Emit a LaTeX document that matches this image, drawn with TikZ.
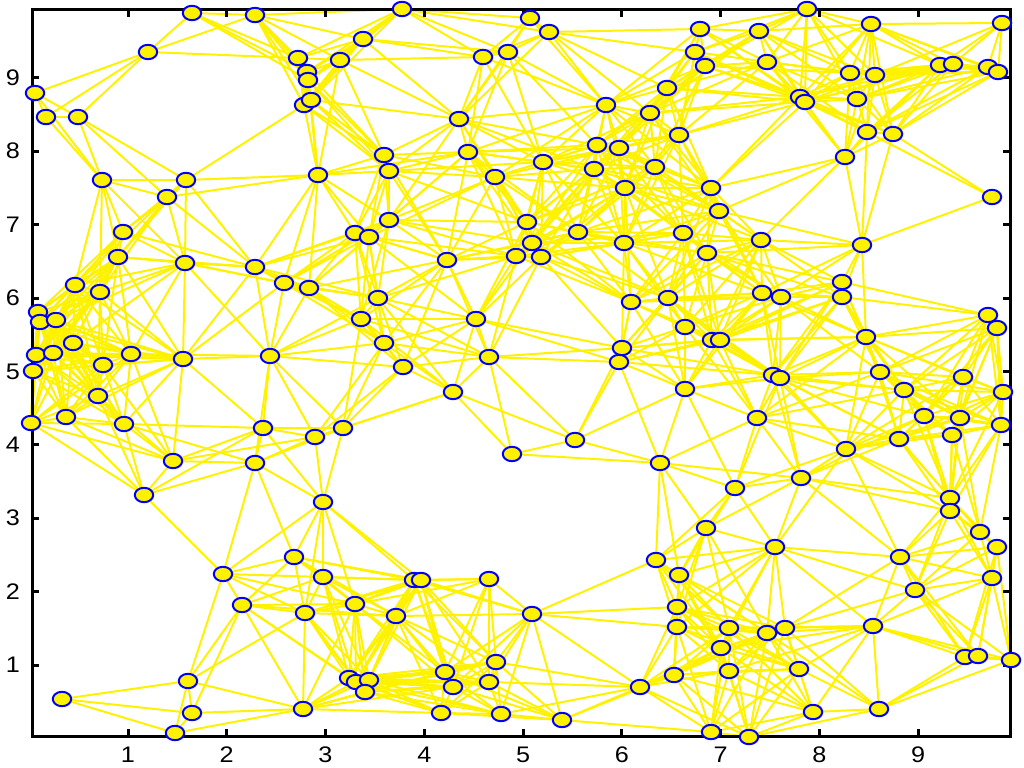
\documentclass[tikz,border=0pt]{standalone}
\usepackage{fontspec}
\setmainfont{Liberation Sans}
\usetikzlibrary{shapes.geometric}
\pgfdeclarelayer{bg}
\pgfsetlayers{bg,main}
\newcount\ci \newcount\cj \newcount\cdx \newcount\cdy
\def\NN{0}
\def\rsq{24964}
\def\innerloop{%
  \loop\ifnum\cj<\numexpr\NN+1\relax
    \cdx=\numexpr\csname X\the\ci\endcsname-\csname X\the\cj\endcsname\relax
    \cdy=\numexpr\csname Y\the\ci\endcsname-\csname Y\the\cj\endcsname\relax
    \ifnum\numexpr\cdx*\cdx+\cdy*\cdy\relax<\rsq
      \edef\mytmp{\noexpand\draw[link] (n\the\ci.center) -- (n\the\cj.center);}\mytmp
    \fi
    \advance\cj by 1
  \repeat}
\tikzset{
  pt/.style={ellipse, draw=blue, fill=yellow, line width=0.05cm, minimum width=0.46cm, minimum height=0.36cm, inner sep=0pt},
  link/.style={draw=yellow, line width=0.05cm},
  axisline/.style={line width=0.075cm, black},
  ticklab/.style={font=\fontsize{16}{18}\selectfont, inner sep=0pt, xscale=1.12, transform shape},
}
\begin{document}
\begin{tikzpicture}[x=0.025cm,y=-0.025cm]
\useasboundingbox (0,0) rectangle (1024,768);
% axes
\draw[axisline] (32,10) rectangle (1010,736);
\foreach \k in {1,...,9}{
  \pgfmathsetmacro\tx{29.25+98.75*\k}
  \pgfmathsetmacro\ty{738.4-73.4*\k}
  \draw[axisline] (\tx,736) -- (\tx,729);
  \draw[axisline] (\tx,10) -- (\tx,17);
  \draw[axisline] (32,\ty) -- (39,\ty);
  \draw[axisline] (1010,\ty) -- (1003,\ty);
  \node[ticklab] (xl\k) at (\tx,755) {\k};
  \node[ticklab] (yl\k) at (13,\ty) {\k};
}
% sensor nodes
\foreach \x/\y [count=\k] in {
192/13, 255/15, 402/9, 530/18, 549/32, 700/29, 759/31, 807/9, 871/24, 1002/23,
148/52, 363/39, 298/58, 340/60, 307/72, 308/80, 304/105, 311/100, 483/57, 508/52,
695/52, 705/66, 767/62, 940/65, 953/64, 988/67, 998/72, 850/73, 875/75, 35/93,
46/117, 78/117, 606/105, 667/88, 650/113, 679/135, 800/97, 805/102, 857/99, 867/132,
893/134, 459/119, 468/152, 597/145, 619/148, 543/162, 594/169, 655/167, 625/188, 711/188,
845/157, 992/197, 102/180, 186/180, 167/197, 318/175, 384/155, 389/171, 495/177, 719/211,
123/232, 118/257, 185/263, 255/267, 389/220, 355/233, 369/237, 527/222, 532/243, 516/256,
541/257, 578/232, 624/243, 683/233, 707/253, 761/240, 862/245, 447/260, 284/283, 309/288,
378/298, 361/319, 476/319, 384/343, 270/356, 403/367, 489/357, 453/392, 263/428, 315/437,
343/428, 255/463, 512/454, 323/502, 75/285, 100/292, 38/312, 40/322, 56/320, 73/343,
36/355, 53/353, 33/371, 103/365, 131/354, 183/359, 98/396, 66/417, 31/423, 124/424,
173/461, 144/495, 631/302, 668/298, 762/293, 781/297, 842/282, 842/297, 685/327, 712/340,
720/340, 622/348, 619/362, 773/375, 780/378, 685/389, 757/418, 575/440, 660/463, 735/488,
988/315, 997/328, 866/337, 880/372, 963/377, 904/390, 1003/392, 924/416, 960/418, 952/435,
1001/425, 899/439, 846/449, 801/478, 950/498, 950/511, 223/574, 242/605, 188/681, 62/699,
192/713, 175/733, 294/557, 323/577, 355/604, 305/613, 396/616, 414/580, 421/580, 489/579,
532/614, 496/662, 445/672, 453/687, 489/682, 349/678, 356/682, 369/680, 365/692, 303/709,
441/713, 501/714, 706/528, 775/547, 656/560, 679/575, 677/607, 677/627, 729/628, 767/633,
785/628, 721/648, 729/671, 674/675, 640/687, 562/720, 711/732, 749/737, 980/532, 997/547,
900/557, 992/578, 915/590, 873/626, 799/669, 965/657, 978/656, 1011/660, 813/712, 879/709}{
  \node[pt] (n\k) at (\x,\y) {};
  \expandafter\xdef\csname X\k\endcsname{\the\numexpr(\x*10000-292500)/9875\relax}
  \expandafter\xdef\csname Y\k\endcsname{\the\numexpr(7384000-\y*10000)/7340\relax}
  \xdef\NN{\k}
}
% links between nodes within radio range
\begin{pgfonlayer}{bg}
\ci=1
\loop\ifnum\ci<\NN
  \cj=\ci \advance\cj by 1
  {\innerloop}%
  \advance\ci by 1
\repeat
\end{pgfonlayer}
\end{tikzpicture}
\end{document}
